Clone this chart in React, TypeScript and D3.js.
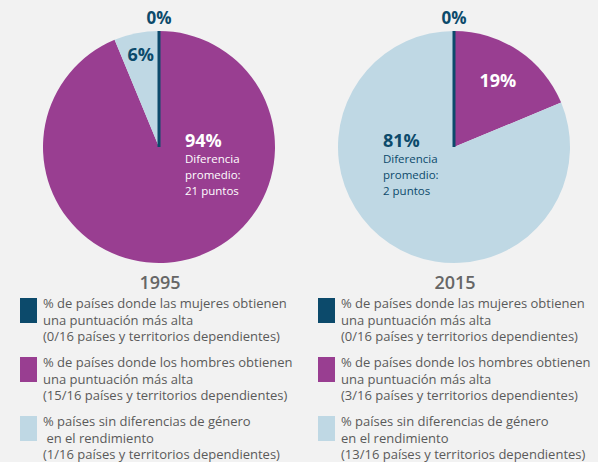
import React from 'react';
import * as d3 from 'd3';

const W = 598;
const H = 462;

const categories = ['mujeres', 'hombres', 'sinDiferencia'];
const years = ['1995', '2015'];
const counts1995 = [0, 15, 1];
const counts2015 = [0, 3, 13];
const total = 16;
const gapText = ['21 puntos', '2 puntos'];

const legendLines1995 = [
  ['% de países donde las mujeres obtienen', 'una puntuación más alta', '(0/16 países y territorios dependientes)'],
  ['% de países donde los hombres obtienen', 'una puntuación más alta', '(15/16 países y territorios dependientes)'],
  ['% países sin diferencias de género', ' en el rendimiento', '(1/16 países y territorios dependientes)'],
];
const legendLines2015 = [
  ['% de países donde las mujeres obtienen', 'una puntuación más alta', '(0/16 países y territorios dependientes)'],
  ['% de países donde los hombres obtienen', 'una puntuación más alta', '(3/16 países y territorios dependientes)'],
  ['% países sin diferencias de género', 'en el rendimiento', '(13/16 países y territorios dependientes)'],
];

const colors = d3.scaleOrdinal<string, string>().domain(categories).range(['#0c4a6b', '#993e91', '#bfd8e4']);
const dark = '#0c4a6b';
const grey = '#5a5a5a';
const font = '"Open Sans", sans-serif';

const R = 116;
const centers = [
  { x: 159, y: 147 },
  { x: 454, y: 147 },
];

const pie = d3.pie<number>().sort(null).value((d) => d);
const arc = d3.arc<d3.PieArcDatum<number>>().innerRadius(0).outerRadius(R);
// thin slices get their label pushed further out
const labelR = (s: d3.PieArcDatum<number>) => (s.endAngle - s.startAngle < 0.5 ? 94 : 79);
const labelArc = d3
  .arc<d3.PieArcDatum<number>>()
  .innerRadius((s) => labelR(s))
  .outerRadius((s) => labelR(s));

const pct = (v: number) => `${Math.round((v / total) * 100)}%`;

function Pie({ idx, counts }: { idx: number; counts: number[] }) {
  const c = centers[idx];
  const slices = pie(counts);
  // largest slice gets the big label with the "diferencia" note
  const big = slices.reduce((a, b) => (b.value > a.value ? b : a));
  const bigOnRight = (big.startAngle + big.endAngle) / 2 < Math.PI;
  return (
    <g transform={`translate(${c.x},${c.y})`}>
      {slices.map((s, i) => (
        <path key={i} d={arc(s) || ''} fill={colors(categories[i])} />
      ))}
      {/* zero share drawn as a line at 12 o'clock */}
      <line x1={0} y1={0} x2={0} y2={-R} stroke={dark} strokeWidth={3} />
      <text x={0} y={-R - 7} textAnchor="middle" fontFamily={font} fontWeight={700} fontSize={17} fill={dark}>
        {pct(counts[0])}
      </text>
      {slices.map((s, i) => {
        if (i === 0 || s === big) return null;
        const [lx, ly] = labelArc.centroid(s);
        const col = categories[i] === 'hombres' ? '#ffffff' : dark;
        return (
          <text key={i} x={lx} y={ly + 6} textAnchor="middle" fontFamily={font} fontWeight={700} fontSize={18} fill={col}>
            {pct(s.value)}
          </text>
        );
      })}
      {(() => {
        const col = categories[big.index] === 'hombres' ? '#ffffff' : dark;
        const x = bigOnRight ? 26 : -71;
        return (
          <g fontFamily={font} fill={col}>
            <text x={x} y={0} fontWeight={700} fontSize={18}>{pct(big.value)}</text>
            <text x={x} y={16} fontSize={11.5}>Diferencia</text>
            <text x={x} y={32} fontSize={11.5}>promedio:</text>
            <text x={x} y={48} fontSize={11.5}>{gapText[idx]}</text>
          </g>
        );
      })()}
      <text x={1} y={R + 26} textAnchor="middle" fontFamily={font} fontWeight={600} fontSize={18} fill="#666666">
        {years[idx]}
      </text>
    </g>
  );
}

function Legend({ x, lines }: { x: number; lines: string[][] }) {
  return (
    <g transform={`translate(${x},298)`}>
      {lines.map((grp, i) => (
        <g key={i} transform={`translate(0,${i * 59})`}>
          <rect x={0} y={0} width={17} height={25} fill={colors(categories[i])} />
          {grp.map((t, j) => (
            <text key={j} x={23} y={10 + j * 16.5} fontFamily={font} fontSize={13} fill={grey} style={{ whiteSpace: 'pre' }}>
              {t}
            </text>
          ))}
        </g>
      ))}
    </g>
  );
}

export default function App() {
  return (
    <div style={{ position: 'fixed', left: 0, top: 0, width: W, height: H }}>
      <svg width={W} height={H} style={{ display: 'block', background: '#f2f2f2' }}>
        <Pie idx={0} counts={counts1995} />
        <Pie idx={1} counts={counts2015} />
        <Legend x={20} lines={legendLines1995} />
        <Legend x={318} lines={legendLines2015} />
      </svg>
    </div>
  );
}
